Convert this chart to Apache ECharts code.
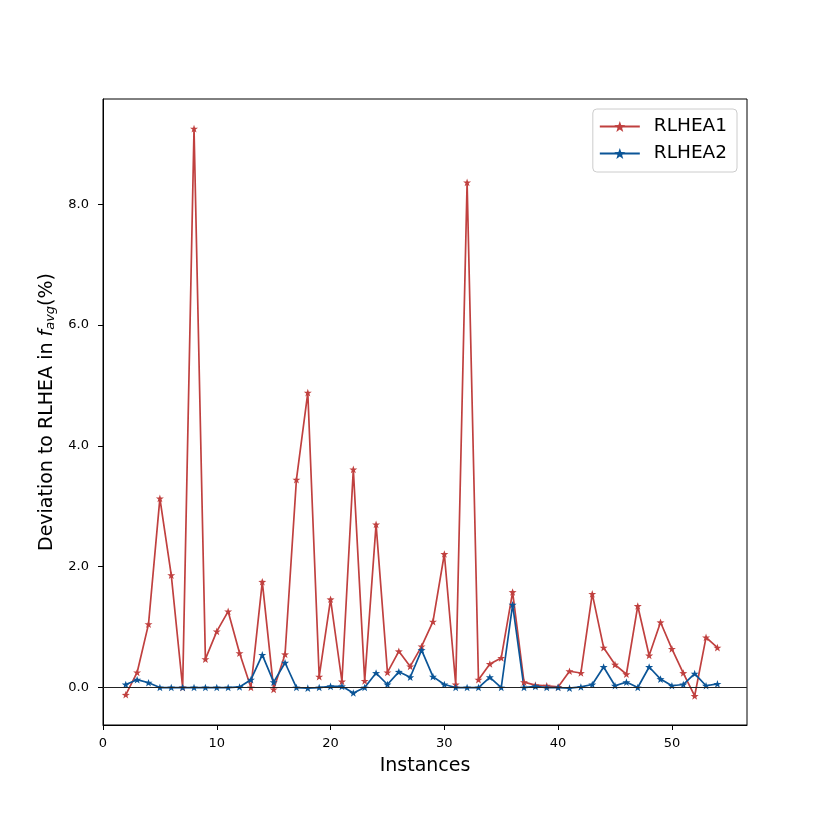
<!DOCTYPE html>
<html>
<head>
<meta charset="utf-8">
<script src="https://cdn.jsdelivr.net/npm/echarts@6/dist/echarts.min.js"></script>
<style>
  html, body { margin: 0; padding: 0; background: #fff; }
  #main { width: 830px; height: 830px; }
</style>
</head>
<body>
<div id="main"></div>
<script>
// instance ids on the x axis
var instances = [];
for (var n = 2; n <= 54; n++) instances.push(n);

// deviation values (%)
var rlhea1 = [-0.12, 0.25, 1.05, 3.13, 1.86, 0.00, 9.25, 0.47, 0.93, 1.26,
              0.57, 0.00, 1.75, -0.03, 0.55, 3.44, 4.88, 0.18, 1.46, 0.10,
              3.61, 0.11, 2.70, 0.25, 0.60, 0.35, 0.68, 1.09, 2.21, 0.05,
              8.36, 0.13, 0.39, 0.49, 1.58, 0.09, 0.04, 0.03, 0.01, 0.27,
              0.24, 1.55, 0.66, 0.38, 0.22, 1.35, 0.53, 1.08, 0.64, 0.24,
              -0.14, 0.83, 0.66];
var rlhea2 = [0.05, 0.13, 0.08, 0.00, 0.00, 0.00, 0.00, 0.00, 0.00, 0.00,
              0.01, 0.13, 0.54, 0.09, 0.41, 0.00, -0.01, 0.00, 0.02, 0.02,
              -0.09, 0.00, 0.24, 0.05, 0.26, 0.17, 0.62, 0.18, 0.05, 0.00,
              0.00, 0.00, 0.17, 0.00, 1.37, 0.00, 0.02, 0.00, 0.00, -0.01,
              0.01, 0.05, 0.34, 0.03, 0.09, 0.00, 0.34, 0.14, 0.03, 0.05,
              0.23, 0.03, 0.06];

var xTicks = [0, 10, 20, 30, 40, 50];
var yTicks = [0, 2, 4, 6, 8];

var star = 'path://M0,-10L2.35,-3.24L9.51,-3.09L3.8,1.24L5.88,8.09L0,4L-5.88,8.09L-3.8,1.24L-9.51,-3.09L-2.35,-3.24Z';

function pairs(ys) {
    return instances.map(function(x, i) { return [x, ys[i]]; });
}

var font = 'DejaVu Sans';
var myChart = echarts.init(document.getElementById('main'));

var option = {
    animation: false,
    textStyle: { fontFamily: font },
    grid: {
        left: 103, top: 99, width: 644, height: 626,
        show: true, borderColor: '#000', borderWidth: 1,
        containLabel: false
    },
    legend: {
        orient: 'vertical',
        right: 93, top: 109,
        itemWidth: 40, itemHeight: 14, itemGap: 8,
        padding: [8, 10, 9, 6],
        borderColor: '#ccc', borderWidth: 1, borderRadius: 4,
        textStyle: { fontSize: 18.5, color: '#000', fontFamily: font, padding: [0, 0, 0, 9] },
        data: ['RLHEA1', 'RLHEA2']
    },
    xAxis: {
        type: 'value',
        min: 0, max: 56.6,
        name: 'Instances',
        nameLocation: 'middle', nameGap: 32,
        nameTextStyle: { fontSize: 19, color: '#000' },
        splitLine: { show: false },
        axisLine: { show: true, onZero: false, lineStyle: { color: '#000' } },
        axisTick: { show: true, length: 5, customValues: xTicks, lineStyle: { color: '#000' } },
        axisLabel: { fontSize: 13, color: '#000', margin: 12, customValues: xTicks }
    },
    yAxis: {
        type: 'value',
        min: -0.62, max: 9.74,
        name: '{a|Deviation to RLHEA in }{i|f}{s|avg}{a|(%)}',
        nameLocation: 'middle', nameRotate: 90, nameGap: 45,
        nameTextStyle: {
            rich: {
                a: { fontSize: 19, color: '#000', fontFamily: font },
                i: { fontSize: 19, color: '#000', fontStyle: 'italic', fontFamily: font },
                s: { fontSize: 13, color: '#000', fontStyle: 'italic', fontFamily: font,
                     verticalAlign: 'bottom', padding: [7, 0, 0, 0] }
            }
        },
        splitLine: { show: false },
        axisLine: { show: true, onZero: false, lineStyle: { color: '#000' } },
        axisTick: { show: true, length: 5, customValues: yTicks, lineStyle: { color: '#000' } },
        axisLabel: {
            fontSize: 13, color: '#000', margin: 14, customValues: yTicks,
            formatter: function(v) { return v.toFixed(1); }
        }
    },
    series: [
        {
            name: 'RLHEA1',
            type: 'line',
            data: pairs(rlhea1),
            color: '#c0403f',
            lineStyle: { width: 1.7 },
            symbol: star, symbolSize: 8, symbolKeepAspect: true,
            showAllSymbol: true,
            markLine: {
                silent: true, symbol: 'none', label: { show: false },
                lineStyle: { color: '#222', width: 1, type: 'solid' },
                data: [{ yAxis: 0 }]
            }
        },
        {
            name: 'RLHEA2',
            type: 'line',
            data: pairs(rlhea2),
            color: '#0b5597',
            lineStyle: { width: 1.7 },
            symbol: star, symbolSize: 8, symbolKeepAspect: true,
            showAllSymbol: true
        }
    ]
};

myChart.setOption(option);
</script>
</body>
</html>
